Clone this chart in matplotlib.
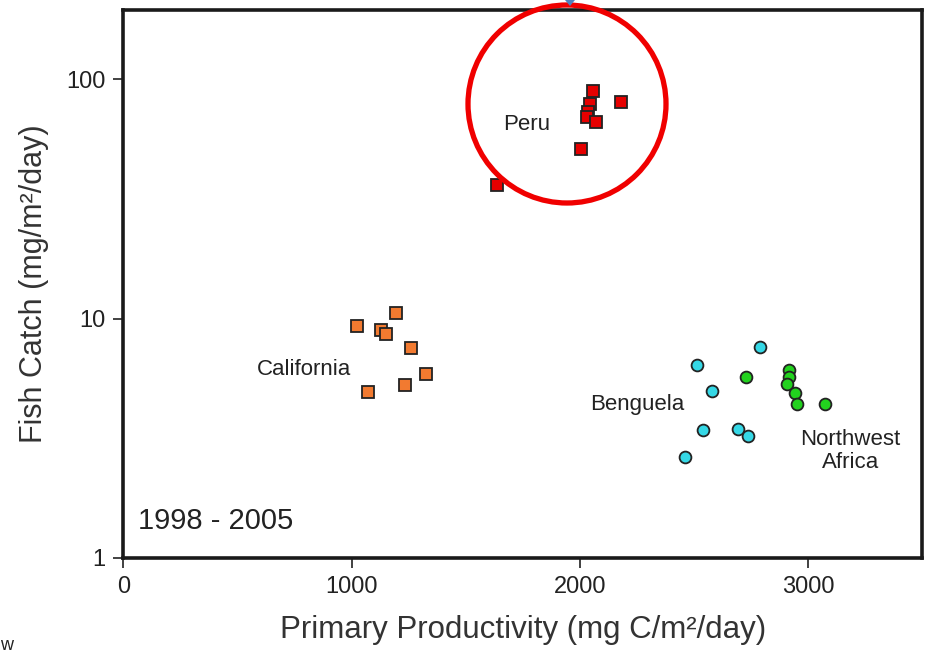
import matplotlib
matplotlib.use('Agg')
import matplotlib.pyplot as plt
from matplotlib.patches import Ellipse, Polygon

plt.rcParams['font.family'] = ['Liberation Sans', 'DejaVu Sans']

# primary productivity (mg C/m2/day) vs fish catch (mg/m2/day), 1998-2005
peru_pp = [1639, 2005, 2058, 2044, 2037, 2030, 2070, 2181]
peru_fc = [36.1, 51.0, 89.1, 78.6, 72.8, 69.5, 66.3, 80.2]

calif_pp = [1196, 1025, 1130, 1152, 1262, 1327, 1232, 1071]
calif_fc = [10.6, 9.33, 8.95, 8.59, 7.51, 5.87, 5.28, 4.95]

beng_pp = [2515, 2788, 2578, 2540, 2694, 2738, 2460]
beng_fc = [6.40, 7.63, 4.98, 3.42, 3.46, 3.23, 2.65]

nwa_pp = [2729, 2919, 2916, 2909, 2942, 2952, 3073]
nwa_fc = [5.71, 6.10, 5.68, 5.31, 4.87, 4.40, 4.42]

fig = plt.figure(figsize=(9.30, 6.54), dpi=100)
ax = fig.add_axes([0.1327, 0.1468, 0.8587, 0.8379])

ms = 8.5
ax.plot(calif_pp, calif_fc, 's', color='#f27a30', mec='#222222', mew=1.3, ms=ms, ls='none')
ax.plot(peru_pp, peru_fc, 's', color='#e60000', mec='#222222', mew=1.3, ms=ms, ls='none')
ax.plot(beng_pp, beng_fc, 'o', color='#35d8e6', mec='#222222', mew=1.3, ms=ms, ls='none')
ax.plot(nwa_pp, nwa_fc, 'o', color='#22d21e', mec='#222222', mew=1.3, ms=ms, ls='none')

ax.set_yscale('log')
ax.set_xlim(0, 3500)
ax.set_ylim(1, 195)
ax.set_xticks([0, 1000, 2000, 3000])
ax.set_yticks([1, 10, 100])
ax.set_yticklabels(['1', '10', '100'])
ax.minorticks_off()
ax.tick_params(direction='out', length=7, width=1.3, color='#333333',
               labelsize=17, pad=6, labelcolor='#222222')

for s in ax.spines.values():
    s.set_linewidth(2.6)
    s.set_color('#1a1a1a')

ax.set_xlabel('Primary Productivity (mg C/m\u00b2/day)', fontsize=22.5, color='#333333', labelpad=12)
ax.set_ylabel('Fish Catch (mg/m\u00b2/day)', fontsize=22, color='#333333', labelpad=12)

lbl = dict(fontsize=16, color='#222222', ha='center', va='center')
ax.text(1766, 64.9, 'Peru', **lbl)
ax.text(790, 6.15, 'California', **lbl)
ax.text(2251, 4.40, 'Benguela', **lbl)
ax.text(3187, 2.80, 'Northwest\nAfrica', linespacing=1.15, **lbl)
ax.text(0.018, 0.0675, '1998 - 2005', transform=ax.transAxes, fontsize=21,
        color='#222222', ha='left', va='center')

# highlight ring around the Peru cluster
ring = Ellipse((567 / 930, 1 - 104 / 654), 198 / 930, 198 / 654, transform=fig.transFigure,
               fill=False, ec='#f00000', lw=3.8, clip_on=False)
fig.patches.append(ring)

# small pointer tip at the top edge
tip = Polygon([(565 / 930, 1.0), (575 / 930, 1.0), (570 / 930, 1 - 6 / 654)],
              closed=True, transform=fig.transFigure, fc='#4f81bd', ec='none')
fig.patches.append(tip)

fig.text(0.0, 9 / 654, 'w', fontsize=13, color='#222222', ha='left', va='center')

fig.savefig('out.png', dpi=100)
